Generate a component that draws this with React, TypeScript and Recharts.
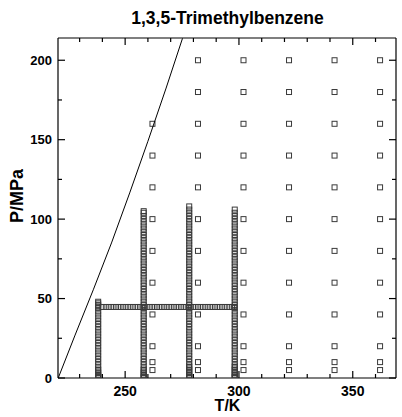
import React from 'react';
import { ScatterChart, Scatter, XAxis, YAxis } from 'recharts';

// isotherm columns (T in K) with the measured pressures (MPa)
const T_COLS = [238.15, 258.15, 278.15, 298.15];
const P_COL_238 = [0.1, 0.5, 1, 1.5, 2, 3, 4, 5, 6, 8, 10, 12, 14, 16, 18, 20, 22, 24, 26, 28, 30, 32, 34, 36, 38, 40, 42, 44, 45, 46, 47, 48];
const P_COL_258 = [0.1, 0.5, 1, 2, 3, 4, 5, 6, 8, 10, 12, 14, 16, 18, 20, 22, 24, 26, 28, 30, 32, 34, 36, 38, 40, 42, 44, 46, 48, 50, 52, 54, 56, 58, 60, 62, 64, 66, 68, 70, 72, 74, 76, 78, 80, 82, 84, 86, 88, 90, 92, 94, 96, 98, 100, 102, 104, 105];
const P_COL_278 = [0.1, 0.5, 1, 2, 3, 4, 5, 6, 7, 8, 10, 12, 14, 16, 18, 20, 22, 24, 26, 28, 30, 32, 34, 36, 38, 40, 42, 44, 46, 48, 50, 52, 54, 56, 58, 60, 62, 64, 66, 68, 70, 72, 74, 76, 78, 80, 82, 84, 86, 88, 90, 92, 94, 96, 98, 100, 102, 104, 106, 108];
const P_COL_298 = [0.1, 0.5, 1, 2, 3, 4, 5, 6, 7, 8, 10, 12, 14, 16, 18, 20, 22, 24, 26, 28, 30, 32, 34, 36, 38, 40, 42, 44, 46, 48, 50, 52, 54, 56, 58, 60, 62, 64, 66, 68, 70, 72, 74, 76, 78, 80, 82, 84, 86, 88, 90, 92, 94, 96, 98, 100, 102, 104, 106];

// isobar row
const P_ROW = 44.7;
const T_ROW = [240, 241.5, 243, 244.5, 246, 247.5, 249, 250.5, 252, 253.5, 255, 256.5, 258, 259.5, 261, 262.5, 264, 265.5, 267, 268.5, 270, 271.5, 273, 274.5, 276, 277.5, 279, 280.5, 282, 283.5, 285, 286.5, 288, 289.5, 291, 292.5, 294, 295.5, 297, 298];

// sparse grid of points
const T_GRID = [262, 282, 302, 322, 342, 362];
const P_GRID = [5, 10, 20, 40, 60, 80, 100, 120, 140, 160, 180, 200];
const P_GRID_262 = [5, 10, 20, 40, 60, 80, 100, 120, 140, 160];

// melting line
const T_MELT = [220.6, 228, 236, 244, 252, 260, 268, 275.2];
const P_MELT = [0, 27, 55.5, 85, 116.5, 149, 182.5, 213.8];

const X_TICKS = [230, 240, 250, 260, 270, 280, 290, 300, 310, 320, 330, 340, 350, 360];
const Y_TICKS = [0, 25, 50, 75, 100, 125, 150, 175, 200];

const FONT = '"Liberation Sans", Arial, sans-serif';

const colPoints = [P_COL_238, P_COL_258, P_COL_278, P_COL_298].flatMap((ps, i) =>
    ps.map((P) => ({ T: T_COLS[i], P }))
);
const rowPoints = T_ROW.map((T) => ({ T, P: P_ROW }));
const gridPoints = T_GRID.flatMap((T) =>
    (T === 262 ? P_GRID_262 : P_GRID).map((P) => ({ T, P }))
);
const meltPoints = T_MELT.map((T, i) => ({ T, P: P_MELT[i] }));

const Square = (props: any) => {
    const { cx, cy } = props;
    if (cx == null || cy == null) return null;
    return <rect x={cx - 2.5} y={cy - 2.5} width={5} height={5} fill="none" stroke="#3a3a3a" strokeWidth={1} />;
};

const NoDot = () => null;

// major ticks every 50, minor in between, all pointing into the frame
const tickLen = (v: number) => (v % 50 === 0 ? 7 : 4);

const BottomTick = (props: any) => {
    const { x, y, payload } = props;
    const major = payload.value % 50 === 0;
    return (
        <g>
            <path d={`M${x},${y}V${y - tickLen(payload.value)}`} stroke="#000" strokeWidth={1.2} fill="none" />
            {major && (
                <text x={x} y={y + 18} textAnchor="middle" fontSize={14} fontWeight="bold" fontFamily={FONT} fill="#000">
                    {payload.value}
                </text>
            )}
        </g>
    );
};

const TopTick = (props: any) => {
    const { x, y, payload } = props;
    return <path d={`M${x},${y}V${y + tickLen(payload.value)}`} stroke="#000" strokeWidth={1.2} fill="none" />;
};

const LeftTick = (props: any) => {
    const { x, y, payload } = props;
    const major = payload.value % 50 === 0;
    return (
        <g>
            <path d={`M${x},${y}H${x + tickLen(payload.value)}`} stroke="#000" strokeWidth={1.2} fill="none" />
            {major && (
                <text x={x - 6} y={y + 4.5} textAnchor="end" fontSize={13} fontWeight="bold" fontFamily={FONT} fill="#000">
                    {payload.value}
                </text>
            )}
        </g>
    );
};

const RightTick = (props: any) => {
    const { x, y, payload } = props;
    return <path d={`M${x},${y}H${x - tickLen(payload.value)}`} stroke="#000" strokeWidth={1.2} fill="none" />;
};

const axisLine = { stroke: '#000', strokeWidth: 1.2 };

const App = () => {
    return (
        <div style={{ position: 'absolute', left: 0, top: 0, width: 402, height: 417 }}>
            <ScatterChart width={402} height={417} margin={{ top: 37, right: 5, bottom: 0, left: 8 }}>
                <XAxis
                    dataKey="T"
                    type="number"
                    domain={[220.5, 369]}
                    ticks={X_TICKS}
                    interval={0}
                    height={39}
                    tickSize={0}
                    tickMargin={0}
                    tickLine={false}
                    tick={BottomTick}
                    axisLine={axisLine}
                    allowDataOverflow
                />
                <XAxis
                    xAxisId="top"
                    dataKey="T"
                    orientation="top"
                    type="number"
                    domain={[220.5, 369]}
                    ticks={X_TICKS}
                    interval={0}
                    height={1}
                    tickSize={0}
                    tickMargin={0}
                    tickLine={false}
                    tick={TopTick}
                    axisLine={axisLine}
                    allowDataOverflow
                />
                <YAxis
                    dataKey="P"
                    type="number"
                    domain={[0, 214]}
                    ticks={Y_TICKS}
                    interval={0}
                    width={50}
                    tickSize={0}
                    tickMargin={0}
                    tickLine={false}
                    tick={LeftTick}
                    axisLine={axisLine}
                    allowDataOverflow
                />
                <YAxis
                    yAxisId="right"
                    dataKey="P"
                    orientation="right"
                    type="number"
                    domain={[0, 214]}
                    ticks={Y_TICKS}
                    interval={0}
                    width={1}
                    tickSize={0}
                    tickMargin={0}
                    tickLine={false}
                    tick={RightTick}
                    axisLine={axisLine}
                    allowDataOverflow
                />
                {/* invisible series so the mirrored frame axes get a scale */}
                <Scatter
                    data={gridPoints}
                    xAxisId="top"
                    yAxisId="right"
                    shape={NoDot}
                    isAnimationActive={false}
                />
                <Scatter data={gridPoints} shape={Square} isAnimationActive={false} />
                <Scatter data={colPoints} shape={Square} isAnimationActive={false} />
                <Scatter data={rowPoints} shape={Square} isAnimationActive={false} />
                <Scatter
                    data={meltPoints}
                    line={{ stroke: '#000', strokeWidth: 1 }}
                    shape={NoDot}
                    isAnimationActive={false}
                />
                <text x={227.5} y={23.5} textAnchor="middle" fontSize={17.5} fontWeight="bold" fontFamily={FONT} fill="#000">
                    1,3,5-Trimethylbenzene
                </text>
                <text x={227.5} y={411} textAnchor="middle" fontSize={16} fontWeight="bold" fontFamily={FONT} fill="#000">
                    T/K
                </text>
                <text
                    x={23}
                    y={196}
                    textAnchor="middle"
                    fontSize={18}
                    fontWeight="bold"
                    fontFamily={FONT}
                    fill="#000"
                    transform="rotate(-90 23 196)"
                >
                    P/MPa
                </text>
            </ScatterChart>
        </div>
    );
};

export default App;
